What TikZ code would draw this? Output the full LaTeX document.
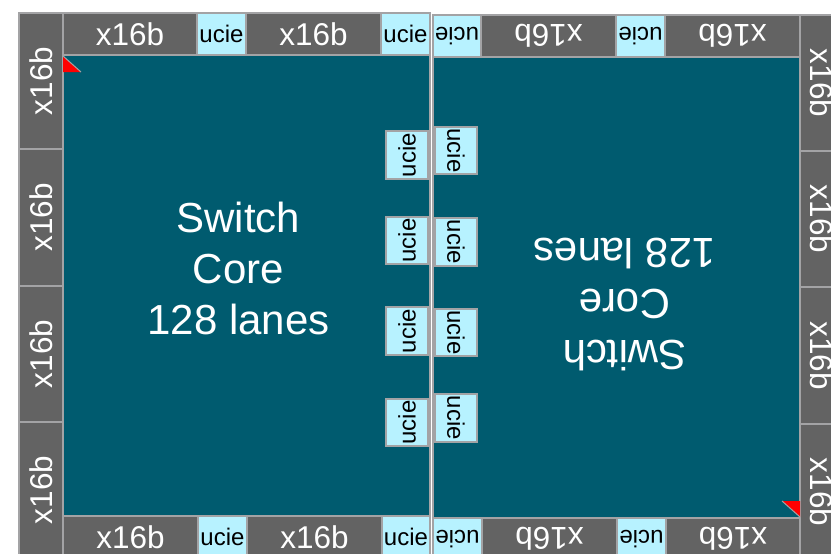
\documentclass[tikz,border=0pt]{standalone}
\usepackage{fontspec}
\setmainfont{Liberation Sans}
\definecolor{coreteal}{RGB}{0,91,111}
\definecolor{boxgray}{RGB}{99,99,99}
\definecolor{edgegray}{RGB}{163,163,165}
\definecolor{uciecyan}{RGB}{183,242,255}
\tikzset{
  chipedge/.style={draw=edgegray, line width=2.4pt},
  xbox/.style={chipedge, fill=boxgray, text=white, font=\fontsize{31.5}{31.5}\selectfont, inner sep=0pt, outer sep=0pt},
  ubox/.style={chipedge, fill=uciecyan, text=black, font=\fontsize{24}{24}\selectfont, inner sep=0pt, outer sep=0pt},
  corebox/.style={chipedge, fill=coreteal, inner sep=0pt, outer sep=0pt},
  coretitle/.style={text=white, align=center, font=\fontsize{42}{51}\selectfont, inner sep=0pt},
  markfill/.style={fill=red},
  markedge/.style={draw=edgegray, line width=1pt},
}
\newcommand\chipbox[7]{%
  \pgfmathsetmacro\cbcx{(#3+#5)/2}%
  \pgfmathsetmacro\cbcy{(#4+#6)/2}%
  \pgfmathsetmacro\cbw{#5-#3}%
  \pgfmathsetmacro\cbh{#6-#4}%
  \node[#1, minimum width=\cbw pt, minimum height=\cbh pt] (#2) at (\cbcx,\cbcy) {#7};%
}
\newcommand\chipboxv[7]{%
  \pgfmathsetmacro\cbcx{(#3+#5)/2}%
  \pgfmathsetmacro\cbcy{(#4+#6)/2}%
  \pgfmathsetmacro\cbw{#5-#3}%
  \pgfmathsetmacro\cbh{#6-#4}%
  \node[#1, rotate=90, minimum width=\cbh pt, minimum height=\cbw pt] (#2) at (\cbcx,\cbcy) {#7};%
}
\newcommand\drawchip[1]{%
  \chipbox{corebox}{#1-core}{63}{55}{430}{516}{}
  % left column
  \chipboxv{xbox}{#1-c1}{19}{13}{63}{149}{x16b}
  \chipboxv{xbox}{#1-c2}{19}{149}{63}{286}{x16b}
  \chipboxv{xbox}{#1-c3}{19}{286}{63}{422}{x16b}
  \chipboxv{xbox}{#1-c4}{19}{422}{63}{558}{x16b}
  % top row
  \chipbox{xbox}{#1-t1}{63}{13}{197}{55}{x16b}
  \chipbox{ubox}{#1-t2}{197}{13}{246}{55}{ucie}
  \chipbox{xbox}{#1-t3}{246}{13}{381}{55}{x16b}
  \chipbox{ubox}{#1-t4}{381}{13}{430}{55}{ucie}
  % bottom row
  \chipbox{xbox}{#1-b1}{63}{516}{198}{558}{x16b}
  \chipbox{ubox}{#1-b2}{198}{516}{247}{558}{ucie}
  \chipbox{xbox}{#1-b3}{247}{516}{382}{558}{x16b}
  \chipbox{ubox}{#1-b4}{382}{516}{430}{558}{ucie}
  % die-to-die ucie
  \chipboxv{ubox}{#1-m1}{386}{131}{428}{179}{ucie}
  \chipboxv{ubox}{#1-m2}{386}{217}{428}{264}{ucie}
  \chipboxv{ubox}{#1-m3}{386}{307}{428}{355}{ucie}
  \chipboxv{ubox}{#1-m4}{386}{399}{428}{446}{ucie}
  % title
  \node[coretitle] (#1-title) at (238.5,268.7) {Switch\\Core\\128 lanes};
  % orientation marker
  \fill[markfill] (63,56) -- (63,72) -- (81,72) -- cycle;
  \draw[markedge] (63,56) -- (81,72);
}
\begin{document}
\begin{tikzpicture}[x=1pt, y=-1pt]
  \path[use as bounding box] (0,0) rectangle (831,554);
  \clip (0,0) rectangle (831,554);
  \drawchip{L}
  \begin{scope}[rotate around={180:(431.5,286.5)}, transform shape]
    \drawchip{R}
  \end{scope}
\end{tikzpicture}
\end{document}
